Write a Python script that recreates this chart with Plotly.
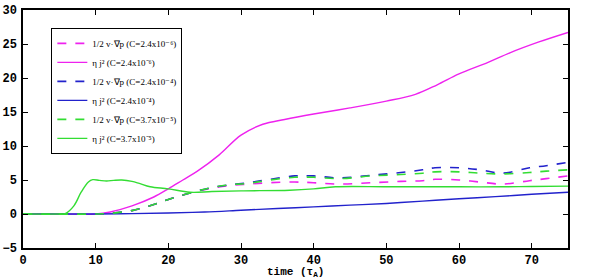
import plotly.graph_objects as go

t_mag = [0, 5, 10, 12, 15, 18, 20, 22, 24, 27, 30, 33, 36, 40, 45, 50, 54, 57, 60, 64, 67, 71, 75]
eta_mag = [0, 0, 0, 0.3, 1.2, 2.5, 3.7, 5.0, 6.3, 8.7, 11.6, 13.2, 13.9, 14.7, 15.6, 16.6, 17.6, 19.0, 20.6, 22.3, 23.7, 25.3, 26.7]

t_grn = [0, 5, 5.8, 7, 8, 9, 9.6, 10.5, 11.5, 12.5, 13.6, 15, 16, 17.5, 20, 23, 26, 30, 36.7, 40, 43, 50, 56, 60, 66, 70, 75]
eta_grn = [0, 0, 0.05, 1.2, 3.2, 4.7, 5.05, 4.95, 4.85, 4.95, 5.0, 4.8, 4.5, 4.0, 3.7, 3.2, 3.3, 3.4, 3.5, 3.7, 4.0, 4.0, 4.0, 4.0, 4.0, 4.05, 4.1]

t_blu = [0, 10, 15, 20, 25, 30, 35, 40, 45, 50, 55, 60, 65, 70, 75]
eta_blu = [0, 0, 0.05, 0.15, 0.3, 0.55, 0.8, 1.05, 1.3, 1.55, 1.9, 2.25, 2.55, 2.9, 3.2]

t_dash = [0, 10, 12, 15, 18, 20.2, 23, 26, 28.5, 31, 34, 37.4, 40, 43.6, 48, 52, 55, 56.7, 60, 62.9, 66, 69.7, 72, 75]
vgp_blu = [0, 0, 0.1, 0.5, 1.4, 2.2, 3.1, 3.9, 4.3, 4.6, 5.1, 5.6, 5.6, 5.3, 5.7, 6.1, 6.5, 6.8, 6.8, 6.5, 6.0, 6.8, 7.1, 7.6]
vgp_grn = [0, 0, 0.1, 0.5, 1.4, 2.2, 3.1, 3.9, 4.3, 4.5, 5.0, 5.4, 5.4, 5.2, 5.6, 5.8, 6.0, 6.2, 6.2, 6.0, 5.9, 6.1, 6.3, 6.5]
vgp_mag = [0, 0, 0.1, 0.5, 1.4, 2.2, 3.1, 3.8, 4.2, 4.4, 4.6, 4.7, 4.6, 4.4, 4.6, 4.8, 4.9, 5.1, 5.0, 4.7, 4.4, 4.9, 5.2, 5.6]

names = [
    "1/2 v·∇p (C=2.4x10⁻⁶)",
    "η j² (C=2.4x10⁻⁶)",
    "1/2 v·∇p (C=2.4x10⁻⁴)",
    "η j² (C=2.4x10⁻⁴)",
    "1/2 v·∇p (C=3.7x10⁻⁵)",
    "η j² (C=3.7x10⁻⁵)",
]

MAG = "#ee22ee"
BLU = "#2222cc"
GRN = "#33dd33"

fig = go.Figure()
fig.add_trace(go.Scatter(x=t_dash, y=vgp_mag, name=names[0], mode="lines", line=dict(color=MAG, width=1.6, dash="dash", shape="spline")))
fig.add_trace(go.Scatter(x=t_mag, y=eta_mag, name=names[1], mode="lines", line=dict(color=MAG, width=1.4, shape="spline")))
fig.add_trace(go.Scatter(x=t_dash, y=vgp_blu, name=names[2], mode="lines", line=dict(color=BLU, width=1.6, dash="dash", shape="spline")))
fig.add_trace(go.Scatter(x=t_blu, y=eta_blu, name=names[3], mode="lines", line=dict(color=BLU, width=1.4, shape="spline")))
fig.add_trace(go.Scatter(x=t_dash, y=vgp_grn, name=names[4], mode="lines", line=dict(color=GRN, width=1.6, dash="dash", shape="spline")))
fig.add_trace(go.Scatter(x=t_grn, y=eta_grn, name=names[5], mode="lines", line=dict(color=GRN, width=1.4, shape="spline")))

tickfont = dict(family="Liberation Mono", size=12, color="black", weight="bold")
axis_common = dict(showgrid=False, zeroline=False, showline=True, linecolor="black", linewidth=1.5,
                   mirror="ticks", ticks="inside", ticklen=5, tickcolor="black", tickfont=tickfont,
                   automargin=False)

fig.update_xaxes(range=[0, 75], tickvals=[0, 10, 20, 30, 40, 50, 60, 70], ticklabelstandoff=0, **axis_common)
fig.update_yaxes(range=[-5, 30], tickvals=[-5, 0, 5, 10, 15, 20, 25, 30], ticklabelstandoff=2, **axis_common)

fig.add_annotation(text="time (τ<sub>A</sub>)", xref="paper", yref="paper", x=0.5, y=-0.104,
                   xanchor="center", yanchor="middle", showarrow=False,
                   font=dict(family="Liberation Mono", size=11, color="black", weight="bold"))

fig.update_layout(
    width=600, height=280,
    margin=dict(l=23, r=32, t=10, b=32, autoexpand=False),
    paper_bgcolor="white", plot_bgcolor="white",
    showlegend=True,
    legend=dict(x=0.052, y=0.925, xanchor="left", yanchor="top",
                bgcolor="white", bordercolor="black", borderwidth=1,
                font=dict(family="Liberation Serif", size=9, color="black"),
                tracegroupgap=0, itemwidth=30),
)

fig.write_html("out.html", config={"displayModeBar": False},
               post_script="document.body.style.margin='0';document.body.style.overflow='hidden';")
